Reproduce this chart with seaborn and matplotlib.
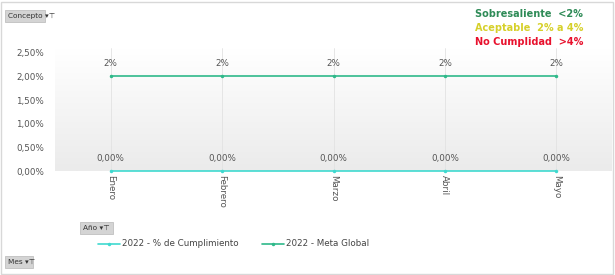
import numpy as np
import pandas as pd
import matplotlib
matplotlib.use("Agg")
import matplotlib.pyplot as plt
import seaborn as sns
from matplotlib.patches import Rectangle

meses = ["Enero", "Febrero", "Marzo", "Abril", "Mayo"]
cumplimiento = [0.0, 0.0, 0.0, 0.0, 0.0]
meta_global = [2.0, 2.0, 2.0, 2.0, 2.0]
serie_cumpl = "2022 - % de Cumplimiento"
serie_meta = "2022 - Meta Global"
y_ticks = [0.0, 0.5, 1.0, 1.5, 2.0, 2.5]

sns.set_theme(style="white")
plt.rcParams['font.family'] = ['DejaVu Sans']

df = pd.DataFrame({
    "Mes": meses * 2,
    "Valor": cumplimiento + meta_global,
    "Serie": [serie_cumpl] * len(meses) + [serie_meta] * len(meses),
})

W, H = 615, 275
fig = plt.figure(figsize=(W / 100, H / 100), dpi=100)
fig.patch.set_facecolor("white")
ax = fig.add_axes([55 / W, 1 - 171 / H, (612 - 55) / W, (171 - 48) / H])

c_cumpl = "#3fd9cf"
c_meta = "#2fb98a"

sns.lineplot(data=df, x="Mes", y="Valor", hue="Serie", ax=ax,
             palette={serie_cumpl: c_cumpl, serie_meta: c_meta},
             marker="o", markersize=2.5, markeredgewidth=0, linewidth=1.2,
             sort=False, legend=False, zorder=3)
for ln in ax.lines:
    ln.set_clip_on(False)

ax.set_xlim(-0.5, len(meses) - 0.5)
ax.set_ylim(0, 2.6)

# gradient background (white at top, light gray at bottom)
grad = np.linspace(0, 1, 100).reshape(-1, 1)
ax.imshow(grad, extent=[-0.5, len(meses) - 0.5, 0, 2.6], aspect="auto",
          cmap=matplotlib.colors.LinearSegmentedColormap.from_list("g", ["#ffffff", "#ebebeb"]),
          origin="upper", zorder=0)
ax.set_xlim(-0.5, len(meses) - 0.5)
ax.set_ylim(0, 2.6)

ax.set_yticks(y_ticks)
ax.set_yticklabels([f"{v:.2f}%".replace(".", ",") for v in y_ticks], fontsize=6.3, color="#555555")
ax.set_xticks(range(len(meses)))
ax.set_xticklabels(meses, rotation=-90, fontsize=6.3, color="#555555")
ax.tick_params(axis="both", length=0, pad=3)
ax.tick_params(axis="y", pad=8)
ax.set_xlabel("")
ax.set_ylabel("")
for s in ax.spines.values():
    s.set_visible(False)
ax.grid(False)
for i in range(len(meses)):
    ax.axvline(i, color="#e2e2e2", linewidth=0.6, zorder=1)

for i, v in enumerate(meta_global):
    ax.annotate(f"{v:.0f}%", (i, v), xytext=(0, 6), textcoords="offset points",
                ha="center", va="bottom", fontsize=6.3, color="#555555")
for i, v in enumerate(cumplimiento):
    ax.annotate(f"{v:.2f}%".replace(".", ","), (i, v), xytext=(0, 6), textcoords="offset points",
                ha="center", va="bottom", fontsize=6.3, color="#555555")

# outer frame
fig.add_artist(Rectangle((1 / W, 1 / H), (W - 3) / W, (H - 3) / H, transform=fig.transFigure,
                         fill=False, edgecolor="#d8d8d8", linewidth=1))

def button(x, y, w, h, text):
    fig.add_artist(Rectangle((x / W, 1 - (y + h) / H), w / W, h / H, transform=fig.transFigure,
                             facecolor="#d4d4d4", edgecolor="#c0c0c0", linewidth=0.6))
    fig.text((x + 3) / W, 1 - (y + h / 2) / H, text, fontsize=5.3, color="#333333",
             va="center", ha="left")

button(5, 10, 40, 12, "Concepto ▾⊤")
button(80, 222, 33, 12, "Año ▾⊤")
button(5, 256, 28, 12, "Mes ▾⊤")

# legend
ly = 1 - 244 / H
for x0, col, txt in [(98, c_cumpl, serie_cumpl), (262, c_meta, serie_meta)]:
    fig.add_artist(plt.Line2D([x0 / W, (x0 + 22) / W], [ly, ly], transform=fig.transFigure,
                              color=col, linewidth=1.2))
    fig.add_artist(plt.Line2D([(x0 + 11) / W], [ly], transform=fig.transFigure,
                              color=col, marker="o", markersize=2.5, markeredgewidth=0))
    fig.text((x0 + 24) / W, ly, txt, fontsize=6.3, color="#444444", va="center", ha="left")

# thresholds text
fig.text(583 / W, 1 - 14 / H, "Sobresaliente  <2%", fontsize=7, color="#2e8b57",
         fontweight="bold", ha="right", va="center")
fig.text(583 / W, 1 - 28 / H, "Aceptable  2% a 4%", fontsize=7, color="#d6d02a",
         fontweight="bold", ha="right", va="center")
fig.text(583 / W, 1 - 42 / H, "No Cumplidad  >4%", fontsize=7, color="#e8112d",
         fontweight="bold", ha="right", va="center")

fig.savefig("out.png", dpi=100)
